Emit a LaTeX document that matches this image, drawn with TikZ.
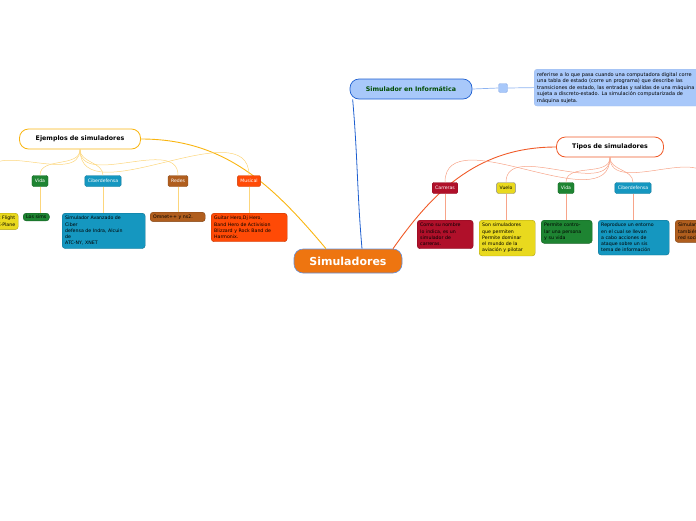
\documentclass[tikz,border=0pt]{standalone}
\usepackage{fontspec}
\setmainfont{DejaVu Sans}
\definecolor{naranja}{HTML}{EE7510}
\definecolor{azulclaro}{HTML}{A8C8FA}
\definecolor{azul}{HTML}{1E5FD0}
\definecolor{rojizo}{HTML}{F05A28}
\definecolor{ambar}{HTML}{F9B511}
\definecolor{carmesi}{HTML}{B0102A}
\definecolor{amarillo}{HTML}{E9D91E}
\definecolor{verde}{HTML}{1E8432}
\definecolor{turquesa}{HTML}{1597C0}
\definecolor{marron}{HTML}{B05E1E}
\definecolor{musical}{HTML}{FF4A06}

\begin{document}
\begin{tikzpicture}[x=1pt,y=-1pt,
    tema/.style={rounded corners=9pt, draw=#1, fill=white, line width=0.8pt,
        font=\bfseries\fontsize{6.3}{7}\selectfont, minimum height=20pt, inner xsep=7pt},
    rama/.style={rounded corners=1.5pt, fill=#1, draw=#1!80!black, text=white,
        font=\fontsize{4.6}{5}\selectfont, minimum height=11pt, inner xsep=3pt, inner ysep=1pt},
    hoja/.style={rounded corners=3pt, fill=#1, draw=#1!75!black, anchor=north west,
        font=\fontsize{4.7}{6.3}\selectfont, align=left, inner xsep=3pt, inner ysep=3pt},
    tipo/.style={draw=rojizo!55, line width=0.5pt},
    ejem/.style={draw=ambar!55, line width=0.5pt}]

    \useasboundingbox (0,0) rectangle (696,520);
    \clip (0,0) rectangle (696,520);

    % nodo central
    \node[rounded corners=9pt, fill=naranja, draw=azul!70, line width=0.6pt, text=white,
        font=\bfseries\fontsize{11}{12}\selectfont, minimum width=108pt, minimum height=24pt]
        (sim) at (348,261) {Simuladores};

    % simulador en informatica
    \node[rounded corners=9pt, fill=azulclaro, draw=azul, line width=0.7pt, text=black!70!green,
        font=\bfseries\fontsize{6.3}{7}\selectfont, minimum width=122pt, minimum height=20pt]
        (info) at (411,89) {Simulador en Informática};
    \node[rounded corners=1.5pt, fill=azulclaro, draw=azul!50, minimum size=9pt, inner sep=0pt]
        (cuadro) at (503,88) {};
    \node[hoja=azulclaro, draw=azul!40, text width=180pt, font=\fontsize{5}{6.5}\selectfont]
        (nota) at (534,69) {referirse a lo que pasa cuando una computadora digital corre\\
        una tabla de estado (corre un programa) que describe las\\
        transiciones de estado, las entradas y salidas de una máquina\\
        sujeta a discreto-estado. La simulación computarizada de\\
        máquina sujeta.};
    \draw[azulclaro!80!azul, line width=0.7pt] (info.east) -- (cuadro.west);
    \draw[azulclaro!80!azul, line width=0.7pt] (cuadro.east) -- (nota.west);
    \draw[azul, line width=0.8pt] ([xshift=14pt]sim.north) to[out=95,in=-85] ([xshift=3pt]info.south west);

    % tipos de simuladores
    \node[tema=rojizo, minimum width=107pt] (tipos) at (610,147) {Tipos de simuladores};
    \draw[rojizo, line width=0.9pt] ([xshift=45pt]sim.north) to[out=55,in=180] (tipos.west);

    \node[rama=carmesi] (tcar) at (445,188) {Carreras};
    \node[rama=amarillo, draw=gray, text=black] (tvue) at (506,188) {Vuelo};
    \node[rama=verde] (tvid) at (566,188) {Vida};
    \node[rama=turquesa] (tcib) at (633,188) {Ciberdefensa};
    \node[rama=marron] (tred) at (707,188) {Redes};
    \foreach \n in {tcar,tvue,tvid,tcib,tred}
        \draw[tipo] (tipos.south) to[out=-90,in=90] (\n.north);

    \node[hoja=carmesi, text width=50pt] (hcar) at (417,220) {Como su nombre\\lo indica, es un\\simulador de\\carreras.};
    \node[hoja=amarillo, text width=50pt] (hvue) at (479,220) {Son simuladores\\que permiten\\Permite dominar\\el mundo de la\\aviación y pilotar};
    \node[hoja=verde, text width=45pt] (hvid) at (541,220) {Permite contro-\\lar una persona\\y su vida};
    \node[hoja=turquesa, text width=65pt] (hcib) at (598,220) {Reproduce un entorno\\en el cual se llevan\\a cabo acciones de\\ataque sobre un sis\\tema de información};
    \node[hoja=marron, text width=55pt] (hred) at (675,220) {Simulan una red\\también una\\red social};
    \draw[tipo] (tcar.south) -- (tcar.south |- hcar.north);
    \draw[tipo] (tvue.south) -- (tvue.south |- hvue.north);
    \draw[tipo] (tvid.south) -- (tvid.south |- hvid.north);
    \draw[tipo] (tcib.south) -- (tcib.south |- hcib.north);

    % ejemplos de simuladores
    \node[tema=ambar, minimum width=121pt] (ejem) at (80,139) {Ejemplos de simuladores};
    \draw[ambar, line width=0.9pt] ([xshift=-22pt]sim.north) to[out=130,in=0] (ejem.east);

    \node[rama=amarillo, draw=gray, text=black] (evue) at (-12,181) {Vuelo};
    \node[rama=verde] (evid) at (40,181) {Vida};
    \node[rama=turquesa] (ecib) at (103,181) {Ciberdefensa};
    \node[rama=marron] (ered) at (178,181) {Redes};
    \node[rama=musical] (emus) at (249,181) {Musical};
    \foreach \n in {evue,evid,ecib,ered,emus}
        \draw[ejem] (ejem.south) to[out=-90,in=90] (\n.north);

    \node[hoja=amarillo, align=right, text width=50pt] (hevue) at (-38,213) {Microsoft Flight\\Simulator, X-Plane};
    \node[hoja=verde, inner ysep=2pt] (hevid) at (23,213) {Los sims};
    \node[hoja=turquesa, text width=77pt] (hecib) at (62,213) {Simulador Avanzado de\\Ciber\\defensa de Indra, Alcuin\\de\\ATC-NY, XNET};
    \node[hoja=marron, inner ysep=2.5pt, text width=49pt] (hered) at (150,212) {Omnet++ y ns2.};
    \node[hoja=musical, text width=70pt] (hemus) at (211,213) {Guitar Hero,Dj Hero,\\Band Hero de Activision\\Blizzard y Rock Band de\\Harmonix.};
    \draw[ejem] (evue.south) -- (evue.south |- hevue.north);
    \draw[ejem] (evid.south) -- (evid.south |- hevid.north);
    \draw[ejem] (ecib.south) -- (ecib.south |- hecib.north);
    \draw[ejem] (ered.south) -- (ered.south |- hered.north);
    \draw[ejem] (emus.south) -- (emus.south |- hemus.north);
\end{tikzpicture}
\end{document}
